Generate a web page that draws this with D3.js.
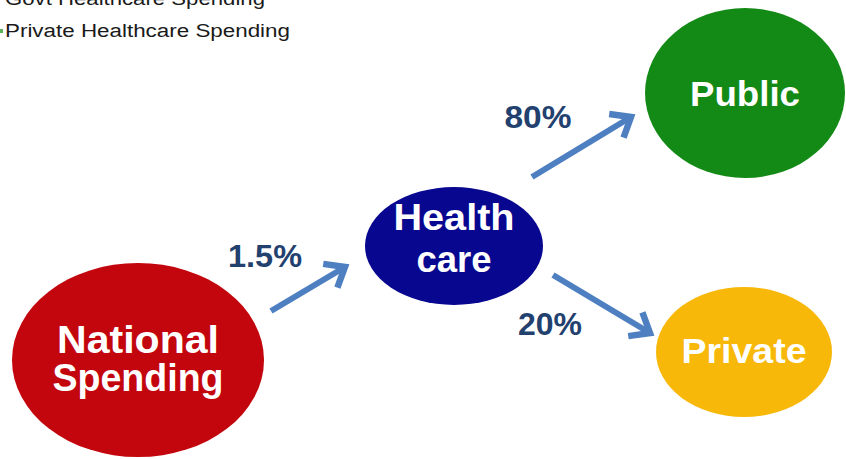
<!DOCTYPE html>
<html lang="en">
<head>
  <meta charset="utf-8">
  <title>Healthcare Spending Flow</title>
  <script src="https://d3js.org/d3.v7.min.js"></script>
  <style>
    html, body { margin: 0; padding: 0; background: #fff; }
    svg { display: block; font-family: "Liberation Sans", Arial, Helvetica, sans-serif; }
  </style>
</head>
<body>
<script>
  // data
  var legendLabels = ["Govt Healthcare Spending", "Private Healthcare Spending"];
  var nodeNames = ["National", "Health", "Public", "Private"];
  var nodeLines = [["National", "Spending"], ["Health", "care"], ["Public"], ["Private"]];
  var flowSource = ["National", "Health", "Health"];
  var flowTarget = ["Health", "Public", "Private"];
  var flowShare = [1.5, 80, 20];   // percent

  var w = 846, h = 459;

  // layout (pixels) kept apart from the data
  var nodeLayout = {
    National: {cx: 138, cy: 360, rx: 126, ry: 97, fill: "#c3060d", size: 39, lead: 38, dy: 12, widths: [162, 171]},
    Health:   {cx: 454, cy: 246, rx: 89,  ry: 59, fill: "#08078f", size: 37, lead: 42, dy: 5,  widths: [121, 75]},
    Public:   {cx: 745, cy: 93,  rx: 100, ry: 85, fill: "#148a16", size: 35, lead: 0,  dy: 13, widths: [110]},
    Private:  {cx: 744, cy: 352, rx: 88,  ry: 65, fill: "#f8b80a", size: 35, lead: 0,  dy: 11, widths: [125]}
  };
  var flowLayout = [
    {x1: 271, y1: 311, x2: 345, y2: 267, lx: 265, ly: 267, tw: 74},
    {x1: 532, y1: 177, x2: 631, y2: 117, lx: 538, ly: 128, tw: 67},
    {x1: 553, y1: 275, x2: 650, y2: 333, lx: 550, ly: 335, tw: 64}
  ];

  var fmt = function(v) { return d3.format(v % 1 ? ".1f" : "d")(v) + "%"; };

  var svg = d3.select("body").append("svg")
    .attr("width", w)
    .attr("height", h);

  // legend (cut off at the top edge in the original)
  var legend = svg.append("g").attr("class", "legend");
  legend.selectAll("text")
    .data(legendLabels)
    .enter().append("text")
    .attr("x", 5)
    .attr("y", function(d, i) { return 5 + i * 32; })
    .attr("font-size", 18)
    .attr("fill", "#1a1a1a")
    .attr("textLength", function(d, i) { return i ? 285 : 260; })
    .attr("lengthAdjust", "spacingAndGlyphs")
    .text(function(d) { return d; });
  legend.append("rect")
    .attr("x", 0).attr("y", 29).attr("width", 3).attr("height", 4)
    .attr("fill", "#5ab35a");

  // flows
  var arrowColor = "#4e7fc0";
  var flows = flowShare.map(function(v, i) {
    return {value: v, source: flowSource[i], target: flowTarget[i], pos: flowLayout[i]};
  });

  var fg = svg.append("g").attr("class", "flows");
  var flow = fg.selectAll("g").data(flows).enter().append("g");

  flow.append("line")
    .attr("x1", function(d) { return d.pos.x1; })
    .attr("y1", function(d) { return d.pos.y1; })
    .attr("x2", function(d) { return d.pos.x2; })
    .attr("y2", function(d) { return d.pos.y2; })
    .attr("stroke", arrowColor)
    .attr("stroke-width", 6);

  flow.append("path")
    .attr("d", function(d) {
      var p = d.pos;
      var a = Math.atan2(p.y2 - p.y1, p.x2 - p.x1);
      var len = 22, spread = 0.68;
      var ax = p.x2 - len * Math.cos(a - spread), ay = p.y2 - len * Math.sin(a - spread);
      var bx = p.x2 - len * Math.cos(a + spread), by = p.y2 - len * Math.sin(a + spread);
      return d3.line()([[ax, ay], [p.x2, p.y2], [bx, by]]);
    })
    .attr("fill", "none")
    .attr("stroke", arrowColor)
    .attr("stroke-width", 6.5)
    .attr("stroke-linejoin", "miter");

  flow.append("text")
    .attr("x", function(d) { return d.pos.lx; })
    .attr("y", function(d) { return d.pos.ly; })
    .attr("text-anchor", "middle")
    .attr("font-size", 32)
    .attr("font-weight", "bold")
    .attr("textLength", function(d) { return d.pos.tw; })
    .attr("lengthAdjust", "spacingAndGlyphs")
    .attr("fill", "#23416f")
    .text(function(d) { return fmt(d.value); });

  // nodes
  var ng = svg.append("g").attr("class", "nodes");
  var node = ng.selectAll("g")
    .data(nodeNames.map(function(n, i) { return {name: n, lines: nodeLines[i], pos: nodeLayout[n]}; }))
    .enter().append("g");

  node.append("ellipse")
    .attr("cx", function(d) { return d.pos.cx; })
    .attr("cy", function(d) { return d.pos.cy; })
    .attr("rx", function(d) { return d.pos.rx; })
    .attr("ry", function(d) { return d.pos.ry; })
    .attr("fill", function(d) { return d.pos.fill; });

  node.each(function(d) {
    var g = d3.select(this);
    var n = d.lines.length;
    d.lines.forEach(function(t, j) {
      g.append("text")
        .attr("x", d.pos.cx)
        .attr("y", d.pos.cy + d.pos.dy + (j - (n - 1) / 2) * d.pos.lead)
        .attr("text-anchor", "middle")
        .attr("font-size", d.pos.size)
        .attr("font-weight", "bold")
        .attr("textLength", d.pos.widths[j])
        .attr("lengthAdjust", "spacingAndGlyphs")
        .attr("fill", "#fff")
        .text(t);
    });
  });
</script>
</body>
</html>
